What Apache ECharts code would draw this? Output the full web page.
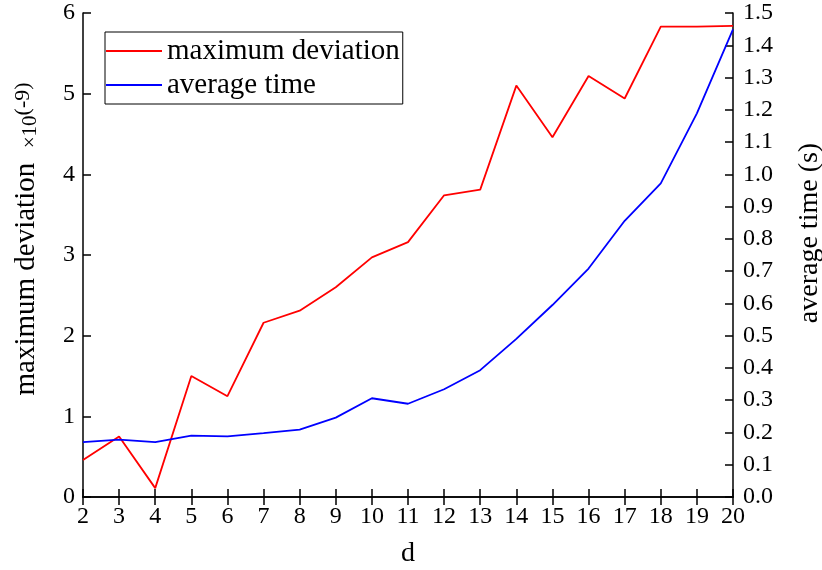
<!DOCTYPE html>
<html>
<head>
<meta charset="utf-8">
<script src="https://cdn.jsdelivr.net/npm/echarts@6/dist/echarts.min.js"></script>
<style>html,body{margin:0;padding:0;background:#fff;}#c{width:822px;height:570px;}</style>
</head>
<body>
<div id="c"></div>
<script>
const dValues = [2,3,4,5,6,7,8,9,10,11,12,13,14,15,16,17,18,19,20];
const maxDeviation = [0.46,0.75,0.11,1.50,1.25,2.16,2.31,2.60,2.97,3.16,3.74,3.81,5.10,4.46,5.22,4.94,5.83,5.83,5.84];
const averageTime = [0.170,0.178,0.170,0.190,0.188,0.198,0.209,0.246,0.306,0.289,0.334,0.393,0.490,0.595,0.708,0.856,0.972,1.189,1.449];
const leftTicks = [0,1,2,3,4,5,6];
const rightTicks = [0,0.1,0.2,0.3,0.4,0.5,0.6,0.7,0.8,0.9,1.0,1.1,1.2,1.3,1.4,1.5];

const FONT = 'Liberation Serif';
const chart = echarts.init(document.getElementById('c'));
const axisLine = {show:true, lineStyle:{color:'#000', width:1.5}};
const tickIn = {show:true, inside:true, length:8, lineStyle:{color:'#000', width:1.5}};
const lbl = {color:'#000', fontFamily:FONT, fontSize:24};

chart.setOption({
  animation:false,
  backgroundColor:'#fff',
  grid:{left:83, right:89, top:13, bottom:73, outerBoundsMode:'none', containLabel:false},
  legend:{
    left:105, top:32, orient:'vertical',
    borderColor:'#000', borderWidth:1, padding:[4,3,4,1],
    icon:'rect', itemWidth:56, itemHeight:2, itemGap:4, itemTextGap:6,
    textStyle:{color:'#000', fontFamily:FONT, fontSize:29, lineHeight:30},
    data:['maximum deviation','average time']
  },
  xAxis:[{
    type:'value', min:2, max:20, interval:1,
    name:'d', nameLocation:'middle', nameGap:43,
    nameTextStyle:{color:'#000', fontFamily:FONT, fontSize:28},
    axisLine:axisLine, axisTick:tickIn, splitLine:{show:false},
    axisLabel:Object.assign({margin:8}, lbl)
  },{
    type:'value', min:2, max:20, interval:1, position:'top',
    axisLine:axisLine, axisTick:tickIn, splitLine:{show:false},
    axisLabel:{show:false}
  }],
  yAxis:[{
    type:'value', min:leftTicks[0], max:leftTicks[leftTicks.length-1], interval:1,
    name:'{a|maximum deviation  }{b|×10}{c|(-9)}', nameLocation:'middle', nameGap:33,
    nameTextStyle:{color:'#000', fontFamily:FONT, padding:[0,0,0,32],
      rich:{
        a:{fontFamily:FONT, fontSize:29, color:'#000', lineHeight:29, verticalAlign:'bottom'},
        b:{fontFamily:FONT, fontSize:21, color:'#000', lineHeight:25, verticalAlign:'bottom'},
        c:{fontFamily:FONT, fontSize:22, color:'#000', lineHeight:22, verticalAlign:'top', padding:[0,0,18,0]}
      }},
    axisLine:axisLine, axisTick:tickIn, splitLine:{show:false},
    axisLabel:Object.assign({margin:8}, lbl)
  },{
    type:'value', min:rightTicks[0], max:rightTicks[rightTicks.length-1], interval:0.1, position:'right',
    name:'average time (s)', nameLocation:'middle', nameGap:63,
    nameTextStyle:{color:'#000', fontFamily:FONT, fontSize:28, padding:[0,0,0,44]},
    axisLine:axisLine, axisTick:tickIn, splitLine:{show:false},
    axisLabel:Object.assign({margin:10, formatter:v=>v.toFixed(1)}, lbl)
  }],
  series:[{
    name:'maximum deviation', type:'line', xAxisIndex:0, yAxisIndex:0,
    symbol:'none', color:'#ff0000', lineStyle:{color:'#ff0000', width:1.8},
    data:dValues.map((d,i)=>[d, maxDeviation[i]])
  },{
    name:'average time', type:'line', xAxisIndex:0, yAxisIndex:1,
    symbol:'none', color:'#0000ff', lineStyle:{color:'#0000ff', width:1.8},
    data:dValues.map((d,i)=>[d, averageTime[i]])
  }]
});
</script>
</body>
</html>
